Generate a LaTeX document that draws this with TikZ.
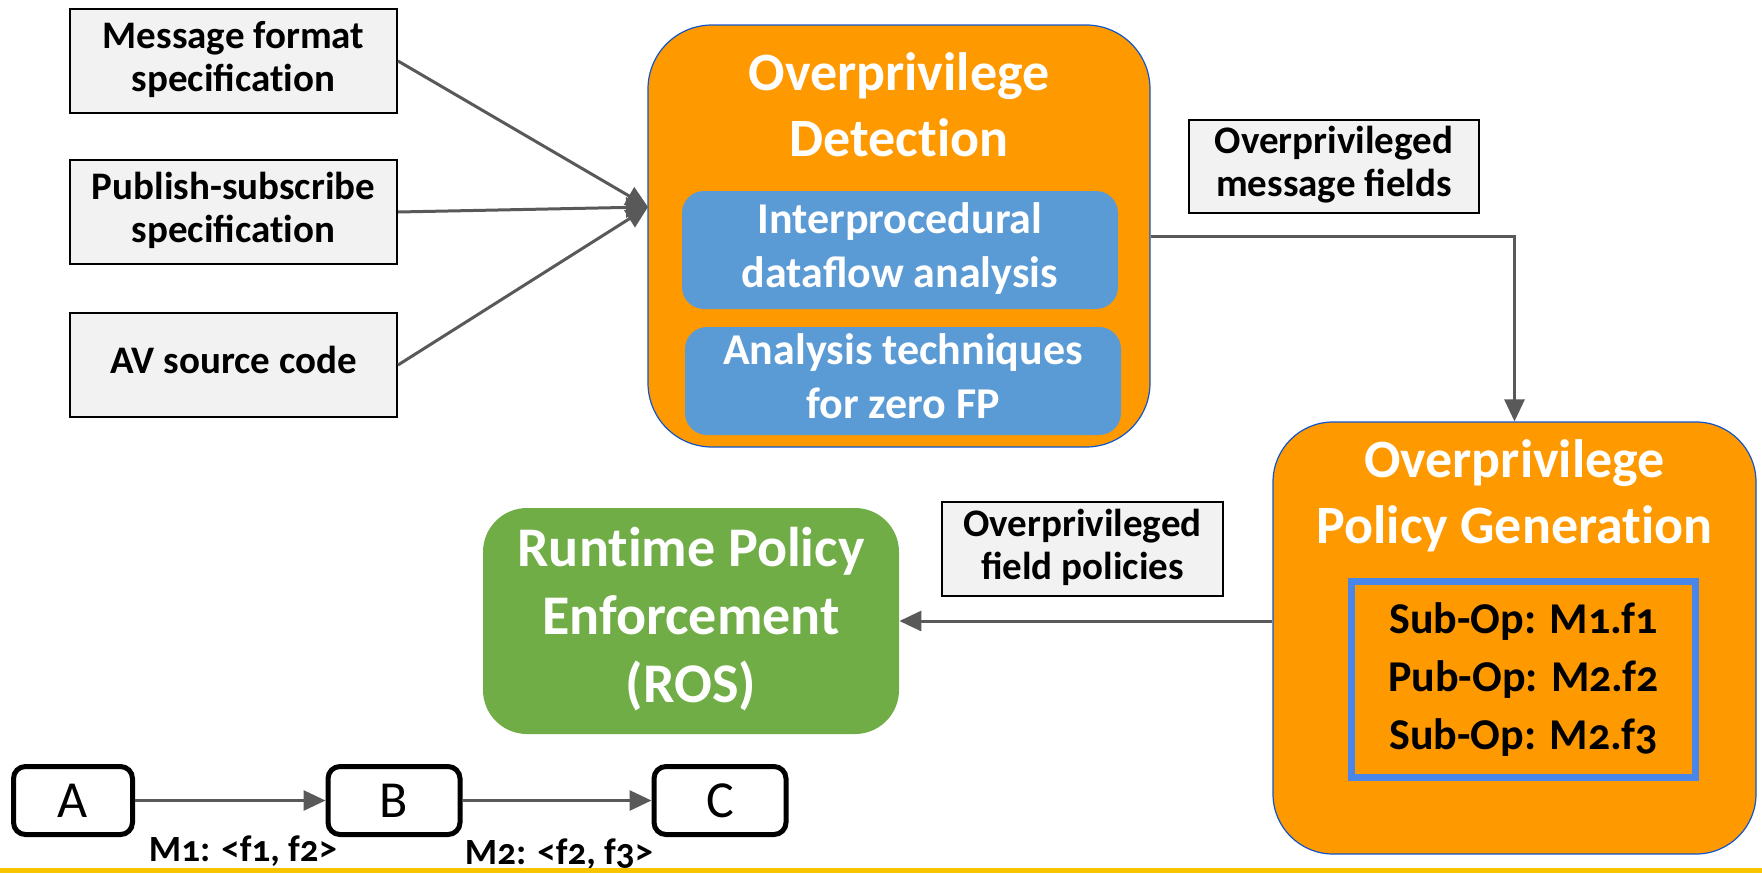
\documentclass[tikz,border=0pt]{standalone}
\usepackage{fontspec}
\setmainfont{Carlito}
\usetikzlibrary{arrows.meta}

\definecolor{boxgray}{HTML}{F2F2F2}
\definecolor{stageorange}{HTML}{FF9900}
\definecolor{stageedge}{HTML}{1155CC}
\definecolor{subblue}{HTML}{5B9BD5}
\definecolor{listblue}{HTML}{4A86E8}
\definecolor{rosgreen}{HTML}{70AD47}
\definecolor{arrowgray}{HTML}{595959}
\definecolor{rulegold}{HTML}{F6C500}

% break the t-i ligature of Carlito
\newcommand{\tibreak}{\kern0pt}

\tikzset{
	inbox/.style={draw=black,line width=1pt,fill=boxgray,minimum width=163.5pt,minimum height=52pt,inner sep=0pt,font=\bfseries\fontsize{19.5}{21.5}\selectfont},
	stage/.style={draw=stageedge,line width=0.6pt,fill=stageorange,rounded corners=32pt,inner sep=0pt},
	stagetitle/.style={text=white,inner sep=0pt,font=\bfseries\fontsize{27}{33}\selectfont},
	subbox/.style={fill=subblue,text=white,rounded corners=11pt,minimum width=218pt,inner sep=0pt,font=\bfseries\fontsize{22}{27}\selectfont},
	flow/.style={draw=arrowgray,line width=1.5pt,-{Triangle[length=11pt,width=10pt]}},
	actor/.style={draw=black,line width=2.5pt,rounded corners=6pt,minimum height=34pt,inner sep=0pt,font=\fontsize{26}{30}\selectfont},
	msglabel/.style={inner sep=0pt,font=\bfseries\fontsize{18.5}{20}\selectfont\addfontfeatures{Numbers=OldStyle}}
}

\begin{document}
\begin{tikzpicture}[x=0.5pt,y=-0.5pt]
	\useasboundingbox (0,0) rectangle (1762,873);
	
	% inputs
	\node[inbox] (msg) at (233.5,61){\begin{tabular}{c}Message format\\specificat\tibreak ion\end{tabular}};
	\node[inbox] (pubsub) at (233.5,212){\begin{tabular}{c}Publish-subscribe\\specificat\tibreak ion\end{tabular}};
	\node[inbox] (avsrc) at (233.5,365){\begin{tabular}{c}AV source code\end{tabular}};
	
	% overprivilege detection
	\node[stage,minimum width=251pt,minimum height=211pt] (detect) at (899,236){};
	\node[stagetitle] (detecttitle) at (899,110){\begin{tabular}{c}Overprivilege\\Detect\tibreak ion\end{tabular}};
	\node[subbox,minimum height=59pt] (dataflow) at (900,250){\begin{tabular}{c}Interprocedural\\dataflow analysis\end{tabular}};
	\node[subbox,minimum height=52pt] (zerofp) at (903,381){\begin{tabular}{c}Analysis techniques\\for zero FP\end{tabular}};
	
	\coordinate (join) at (648,207);
	\draw[flow] (msg.east) -- (join);
	\draw[flow] (pubsub.east) -- (join);
	\draw[flow] (avsrc.east) -- (join);
	
	% policy generation
	\node[inbox,minimum width=145pt,minimum height=46.5pt] (fields) at (1334,166.5){\begin{tabular}{c}Overprivileged\\message fields\end{tabular}};
	\node[stage,rounded corners=30pt,minimum width=241.5pt,minimum height=216pt] (polgen) at (1514.5,638){};
	\node[stagetitle] (polgentitle) at (1514.5,497){\begin{tabular}{c}Overprivilege\\Policy Generat\tibreak ion\end{tabular}};
	\node[draw=listblue,line width=3.5pt,minimum width=172pt,minimum height=98pt,inner sep=0pt,font=\bfseries\fontsize{22}{29}\selectfont\addfontfeatures{Numbers=OldStyle}] (oplist) at (1523.5,679.5){\begin{tabular}{c}Sub-Op: M1.f1\\Pub-Op: M2.f2\\Sub-Op: M2.f3\end{tabular}};
	
	\draw[flow] (detect.east) -| (polgen.north);
	
	% enforcement
	\node[inbox,minimum width=140.5pt,minimum height=47pt] (fieldpol) at (1082.5,549){\begin{tabular}{c}Overprivileged\\field policies\end{tabular}};
	\node[fill=rosgreen,text=white,rounded corners=22pt,minimum width=208pt,minimum height=113pt,inner sep=0pt,font=\bfseries\fontsize{28}{34}\selectfont] (runtime) at (691,621){\begin{tabular}{c}Runt\tibreak ime Policy\\Enforcement\\(ROS)\end{tabular}};
	
	\draw[flow] (polgen.west |- runtime.east) -- (runtime.east);
	
	% example nodes
	\node[actor,minimum width=59.5pt] (nodeA) at (73,800.5){A};
	\node[actor,minimum width=66pt] (nodeB) at (394,800.5){B};
	\node[actor,minimum width=66pt] (nodeC) at (720,800.5){C};
	
	\draw[flow] (nodeA) -- (nodeB);
	\draw[flow] (nodeB) -- (nodeC);
	
	\node[msglabel] (m1) at (243,851){M1: <f1, f2>};
	\node[msglabel] (m2) at (559,854){M2: <f2, f3>};
	
	\draw[rulegold,line width=2.5pt] (0,870) -- (1762,870);
\end{tikzpicture}
\end{document}
